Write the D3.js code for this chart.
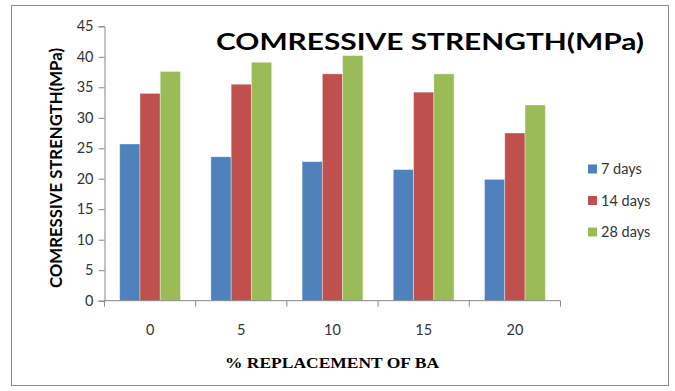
<!DOCTYPE html>
<html>
<head>
<meta charset="utf-8">
<script src="https://cdn.jsdelivr.net/npm/d3@7"></script>
<style>
  html, body { margin: 0; padding: 0; background: #fff; }
  svg { display: block; }
</style>
</head>
<body>
<svg id="chart" width="675" height="391"></svg>
<script>
// Replacement levels (% BA) and compressive strength per curing age
const categories = ["0", "5", "10", "15", "20"];
const seriesNames = ["7 days", "14 days", "28 days"];
const days7 = [25.7, 23.6, 22.8, 21.5, 19.9];
const days14 = [34.0, 35.5, 37.2, 34.2, 27.5];
const days28 = [37.6, 39.1, 40.2, 37.2, 32.1];
const yTicks = [0, 5, 10, 15, 20, 25, 30, 35, 40, 45];
const colors = ["#4F81BD", "#C0504D", "#9BBB59"];

const seriesValues = [days7, days14, days28];
const rows = categories.map((c, i) => ({
  cat: c,
  vals: seriesNames.map((s, k) => ({ key: s, k, v: seriesValues[k][i] }))
}));

const svg = d3.select("#chart");
const plot = { left: 104.5, right: 560.5, top: 26.3, bottom: 300.7 };
const font = "Lato, Calibri, 'Open Sans', sans-serif";

// Outer frame
svg.append("rect")
  .attr("x", 11.5).attr("y", 5.5).attr("width", 657).attr("height", 380)
  .attr("fill", "#fff").attr("stroke", "#8c8c8c").attr("stroke-width", 1);

const x = d3.scaleBand().domain(categories).range([plot.left, plot.right])
  .paddingInner(1.5 / 4.5).paddingOuter(0.75 / 4.5);
const xi = d3.scaleBand().domain(seriesNames).range([0, x.bandwidth()]);
const y = d3.scaleLinear().domain([0, 45]).range([plot.bottom, plot.top]);

// Bars
const groups = svg.append("g").selectAll("g").data(rows).join("g")
  .attr("transform", d => `translate(${x(d.cat)},0)`);
groups.selectAll("rect").data(d => d.vals).join("rect")
  .attr("x", d => xi(d.key))
  .attr("y", d => y(d.v))
  .attr("width", xi.bandwidth())
  .attr("height", d => y(0) - y(d.v))
  .attr("fill", d => colors[d.k])
  .attr("stroke", "rgba(255,255,255,0.45)")
  .attr("stroke-width", 0.8);

// Y axis
const yAxis = svg.append("g").attr("transform", `translate(${plot.left},0)`)
  .call(d3.axisLeft(y).tickValues(yTicks).tickSize(6).tickPadding(5));
yAxis.select(".domain").attr("stroke", "#868686");
yAxis.selectAll(".tick line").attr("stroke", "#868686");
yAxis.selectAll(".tick text").attr("font-family", font).attr("font-size", 14.5)
  .attr("fill", "#333");

// X axis: ticks on category boundaries
const boundaries = d3.range(categories.length + 1)
  .map(i => plot.left + i * (plot.right - plot.left) / categories.length);
const xAxis = svg.append("g").attr("transform", `translate(0,${plot.bottom})`);
xAxis.append("line").attr("x1", plot.left).attr("x2", plot.right)
  .attr("stroke", "#868686");
xAxis.selectAll("line.tk").data(boundaries).join("line").attr("class", "tk")
  .attr("x1", d => d).attr("x2", d => d).attr("y1", 0).attr("y2", 6)
  .attr("stroke", "#868686");
xAxis.selectAll("text").data(categories).join("text")
  .attr("x", d => x(d) + x.bandwidth() / 2).attr("y", 34)
  .attr("text-anchor", "middle")
  .attr("font-family", font).attr("font-size", 14.5).attr("fill", "#333")
  .text(d => d);

// Titles
svg.append("text")
  .attr("x", 430).attr("y", 50).attr("text-anchor", "middle")
  .attr("font-family", font).attr("font-weight", "bold").attr("font-size", 23)
  .attr("textLength", 428).attr("lengthAdjust", "spacingAndGlyphs")
  .attr("fill", "#000")
  .text("COMRESSIVE STRENGTH(MPa)");

svg.append("text")
  .attr("transform", "translate(62,168) rotate(-90)")
  .attr("text-anchor", "middle")
  .attr("font-family", font).attr("font-weight", "bold").attr("font-size", 17.5)
  .attr("textLength", 240).attr("lengthAdjust", "spacingAndGlyphs")
  .attr("fill", "#000")
  .text("COMRESSIVE STRENGTH(MPa)");

svg.append("text")
  .attr("x", 332).attr("y", 368).attr("text-anchor", "middle")
  .attr("font-family", "'Liberation Serif', 'Times New Roman', serif")
  .attr("font-weight", "bold").attr("font-size", 14)
  .attr("textLength", 214).attr("lengthAdjust", "spacingAndGlyphs")
  .attr("fill", "#000")
  .text("% REPLACEMENT OF BA");

// Legend
const legend = svg.append("g").selectAll("g").data(seriesNames).join("g")
  .attr("transform", (d, i) => `translate(588,${169 + i * 31.5})`);
legend.append("rect").attr("x", 0).attr("y", -4.5).attr("width", 9).attr("height", 9)
  .attr("fill", (d, i) => colors[i]);
legend.append("text").attr("x", 13).attr("y", 5)
  .attr("font-family", font).attr("font-size", 14.5).attr("fill", "#333")
  .text(d => d);
</script>
</body>
</html>
